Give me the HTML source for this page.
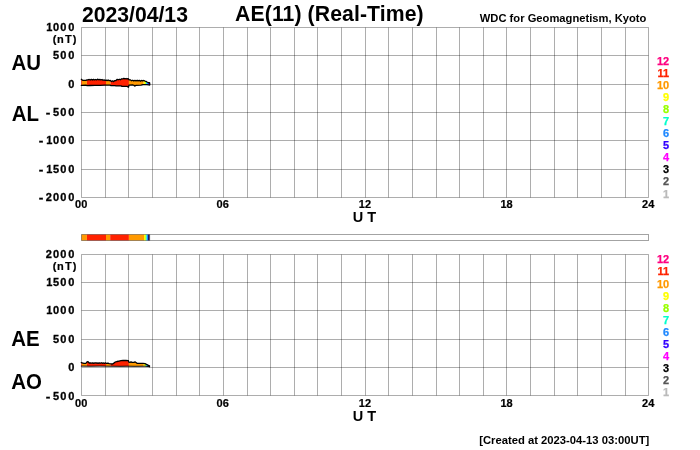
<!DOCTYPE html>
<html><head><meta charset="utf-8"><title>AE(11) (Real-Time) 2023/04/13</title>
<style>
html,body{margin:0;padding:0;background:#fff;}
body{width:700px;height:450px;overflow:hidden;}
svg{display:block;}
text{font-family:'Liberation Sans', Arial, Helvetica, sans-serif;font-weight:bold;}
</style></head>
<body>
<svg width="700" height="450" viewBox="0 0 700 450">
<rect width="700" height="450" fill="#fff"/>
<path d="M81.5 27.5V197.5M105.5 27.5V197.5M128.5 27.5V197.5M152.5 27.5V197.5M176.5 27.5V197.5M199.5 27.5V197.5M223.5 27.5V197.5M247.5 27.5V197.5M270.5 27.5V197.5M294.5 27.5V197.5M317.5 27.5V197.5M341.5 27.5V197.5M365.5 27.5V197.5M388.5 27.5V197.5M412.5 27.5V197.5M436.5 27.5V197.5M459.5 27.5V197.5M483.5 27.5V197.5M506.5 27.5V197.5M530.5 27.5V197.5M554.5 27.5V197.5M577.5 27.5V197.5M601.5 27.5V197.5M625.5 27.5V197.5M648.5 27.5V197.5M81.5 27.5H648.5M81.5 55.5H648.5M81.5 84.5H648.5M81.5 112.5H648.5M81.5 140.5H648.5M81.5 169.5H648.5M81.5 197.5H648.5" stroke="#000" stroke-opacity="0.32" stroke-width="1" fill="none"/>
<path d="M81.5 254.5V395.5M105.5 254.5V395.5M128.5 254.5V395.5M152.5 254.5V395.5M176.5 254.5V395.5M199.5 254.5V395.5M223.5 254.5V395.5M247.5 254.5V395.5M270.5 254.5V395.5M294.5 254.5V395.5M317.5 254.5V395.5M341.5 254.5V395.5M365.5 254.5V395.5M388.5 254.5V395.5M412.5 254.5V395.5M436.5 254.5V395.5M459.5 254.5V395.5M483.5 254.5V395.5M506.5 254.5V395.5M530.5 254.5V395.5M554.5 254.5V395.5M577.5 254.5V395.5M601.5 254.5V395.5M625.5 254.5V395.5M648.5 254.5V395.5M81.5 254.5H648.5M81.5 282.5H648.5M81.5 310.5H648.5M81.5 339.5H648.5M81.5 367.5H648.5M81.5 395.5H648.5" stroke="#000" stroke-opacity="0.32" stroke-width="1" fill="none"/>
<clipPath id="c1"><path d="M81.3,79.3 L82,79.8 L83,80.3 L86,80.3 L87,79.8 L88,79.9 L89.25,79.45 L90.25,79.99 L91.32,79.34 L92.55,80.01 L93.44,79.36 L94.51,79.96 L95.39,79.49 L96.59,79.93 L97.89,79.18 L98.78,79.8 L99.9,79.45 L100.95,79.97 L102.01,79.52 L102.99,80.25 L104.09,79.91 L105.07,80.46 L106.15,80.07 L107.04,80.62 L108.17,80.02 L109.13,80.71 L110.39,80.51 L111.41,81.52 L112.61,80.91 L113.67,81.61 L114.85,80.62 L115.98,80.54 L117.24,79.33 L118.38,79.75 L119.36,79.23 L120.43,79.72 L121.55,78.82 L122.72,78.97 L123.8,78.36 L125.02,78.93 L126.07,78.48 L126.97,78.98 L128.15,78.61 L129.3,79.96 L130.25,79.79 L131.56,80.73 L132.68,80.27 L133.66,80.86 L134.96,80.32 L136.04,80.82 L137.16,80.26 L138.05,80.92 L139.29,80.4 L140.49,81.09 L141.6,80.45 L142.67,80.91 L143.93,80.49 L144.9,81.06 L146,81.4 L147,82.0 L148,82.4 L149,82.6 L149.7,83.0 L149.7,84.8 L148.5,84.8 L147,84.7 L143,84.6 L141,85.1 L136,85.3 L135,86.1 L134,85.4 L133,85.0 L129,85.1 L128.5,87.2 L127,86.4 L122,86.4 L121,85.9 L116,85.9 L115,85.7 L111,85.7 L110,85.2 L105,85.2 L100,85.3 L95,85.4 L90,85.5 L87,85.6 L86,85.2 L81.3,85.3Z"/></clipPath>
<g clip-path="url(#c1)"><rect x="81.0" y="75.36" width="1.0" height="14.840000000000003" fill="#ff2200"/><rect x="82.0" y="75.36" width="4.9" height="14.840000000000003" fill="#ff9900"/><rect x="86.9" y="75.36" width="19.1" height="14.840000000000003" fill="#ff2200"/><rect x="106.0" y="75.36" width="4.5" height="14.840000000000003" fill="#ff9900"/><rect x="110.5" y="75.36" width="18.4" height="14.840000000000003" fill="#ff2200"/><rect x="128.9" y="75.36" width="14.8" height="14.840000000000003" fill="#ff9900"/><rect x="143.7" y="75.36" width="1.5" height="14.840000000000003" fill="#ffff00"/><rect x="145.2" y="75.36" width="0.8" height="14.840000000000003" fill="#99ff00"/><rect x="146.0" y="75.36" width="0.8" height="14.840000000000003" fill="#00ffcc"/><rect x="146.8" y="75.36" width="1.2" height="14.840000000000003" fill="#1e88ff"/><rect x="148.0" y="75.36" width="2.5" height="14.840000000000003" fill="#3300ff"/></g>
<path d="M81.3,79.3 L82,79.8 L83,80.3 L86,80.3 L87,79.8 L88,79.9 L89.25,79.45 L90.25,79.99 L91.32,79.34 L92.55,80.01 L93.44,79.36 L94.51,79.96 L95.39,79.49 L96.59,79.93 L97.89,79.18 L98.78,79.8 L99.9,79.45 L100.95,79.97 L102.01,79.52 L102.99,80.25 L104.09,79.91 L105.07,80.46 L106.15,80.07 L107.04,80.62 L108.17,80.02 L109.13,80.71 L110.39,80.51 L111.41,81.52 L112.61,80.91 L113.67,81.61 L114.85,80.62 L115.98,80.54 L117.24,79.33 L118.38,79.75 L119.36,79.23 L120.43,79.72 L121.55,78.82 L122.72,78.97 L123.8,78.36 L125.02,78.93 L126.07,78.48 L126.97,78.98 L128.15,78.61 L129.3,79.96 L130.25,79.79 L131.56,80.73 L132.68,80.27 L133.66,80.86 L134.96,80.32 L136.04,80.82 L137.16,80.26 L138.05,80.92 L139.29,80.4 L140.49,81.09 L141.6,80.45 L142.67,80.91 L143.93,80.49 L144.9,81.06 L146,81.4 L147,82.0 L148,82.4 L149,82.6 L149.7,83.0 M149.7,83.0 L149.7,84.8" fill="none" stroke="#000" stroke-width="1.3" stroke-linejoin="round" stroke-linecap="round"/>
<path d="M81.3,85.3 L86,85.2 L87,85.6 L90,85.5 L95,85.4 L100,85.3 L105,85.2 L110,85.2 L111,85.7 L115,85.7 L116,85.9 L121,85.9 L122,86.4 L127,86.4 L128.5,87.2 L129,85.1 L133,85.0 L134,85.4 L135,86.1 L136,85.3 L141,85.1 L143,84.6 L147,84.7 L148.5,84.8 L149.7,84.8" fill="none" stroke="#000" stroke-width="1.3" stroke-linejoin="round" stroke-linecap="round"/>
<clipPath id="c2"><path d="M81.3,362.5 L82,362.95 L84,363.35 L86,363.25 L87,361.8 L88,361.6 L89,362.99 L90.21,362.85 L91.5,363.19 L92.79,362.81 L93.87,363.42 L95.04,362.76 L95.97,363.17 L96.96,362.81 L98.09,363.29 L99.06,362.85 L100.35,363.23 L101.3,362.75 L102.24,363.3 L103.17,362.96 L104.44,363.35 L105.41,362.92 L106.68,363.48 L107.98,363.12 L109.16,363.59 L111,363.8 L112,364.0 L113,363.8 L115,362.2 L117,361.5 L119,361.1 L121,360.7 L123,360.5 L126,360.5 L128.3,360.6 L128.9,362.2 L130,362.4 L131,361.9 L132,362.4 L134,362.3 L135,361.9 L136,362.5 L137,363.3 L140,363.4 L143,363.3 L145,363.6 L146,364.1 L147,364.7 L148,365.2 L149.5,365.8 L149.5,366.7 L148,366.5 L145,366.2 L135,366.3 L128,366.2 L120,366.3 L110,366.2 L100,366.1 L90,366.2 L81.3,366.1Z"/></clipPath>
<g clip-path="url(#c2)"><rect x="81.0" y="357.5" width="1.0" height="12.199999999999989" fill="#ff2200"/><rect x="82.0" y="357.5" width="4.9" height="12.199999999999989" fill="#ff9900"/><rect x="86.9" y="357.5" width="19.1" height="12.199999999999989" fill="#ff2200"/><rect x="106.0" y="357.5" width="4.5" height="12.199999999999989" fill="#ff9900"/><rect x="110.5" y="357.5" width="18.4" height="12.199999999999989" fill="#ff2200"/><rect x="128.9" y="357.5" width="14.8" height="12.199999999999989" fill="#ff9900"/><rect x="143.7" y="357.5" width="1.5" height="12.199999999999989" fill="#ffff00"/><rect x="145.2" y="357.5" width="0.8" height="12.199999999999989" fill="#99ff00"/><rect x="146.0" y="357.5" width="0.8" height="12.199999999999989" fill="#00ffcc"/><rect x="146.8" y="357.5" width="1.2" height="12.199999999999989" fill="#1e88ff"/><rect x="148.0" y="357.5" width="2.5" height="12.199999999999989" fill="#3300ff"/></g>
<path d="M81.3,362.5 L82,362.95 L84,363.35 L86,363.25 L87,361.8 L88,361.6 L89,362.99 L90.21,362.85 L91.5,363.19 L92.79,362.81 L93.87,363.42 L95.04,362.76 L95.97,363.17 L96.96,362.81 L98.09,363.29 L99.06,362.85 L100.35,363.23 L101.3,362.75 L102.24,363.3 L103.17,362.96 L104.44,363.35 L105.41,362.92 L106.68,363.48 L107.98,363.12 L109.16,363.59 L111,363.8 L112,364.0 L113,363.8 L115,362.2 L117,361.5 L119,361.1 L121,360.7 L123,360.5 L126,360.5 L128.3,360.6 L128.9,362.2 L130,362.4 L131,361.9 L132,362.4 L134,362.3 L135,361.9 L136,362.5 L137,363.3 L140,363.4 L143,363.3 L145,363.6 L146,364.1 L147,364.7 L148,365.2 L149.5,365.8 M149.5,365.8 L149.5,366.7" fill="none" stroke="#000" stroke-width="1.3" stroke-linejoin="round" stroke-linecap="round"/>
<path d="M81.3,366.1 L90,366.2 L100,366.1 L110,366.2 L120,366.3 L128,366.2 L135,366.3 L145,366.2 L148,366.5 L149.5,366.7" fill="none" stroke="#000" stroke-width="0.95" stroke-linejoin="round" stroke-linecap="round"/>
<rect x="81.5" y="234.5" width="5.4" height="6" fill="#ff9900"/><rect x="86.9" y="234.5" width="19.1" height="6" fill="#ff2200"/><rect x="106.0" y="234.5" width="4.2" height="6" fill="#ff9900"/><rect x="110.2" y="234.5" width="18.7" height="6" fill="#ff2200"/><rect x="128.9" y="234.5" width="15.1" height="6" fill="#ff9900"/><rect x="144.0" y="234.5" width="1.4" height="6" fill="#ffff00"/><rect x="145.4" y="234.5" width="0.8" height="6" fill="#99ff00"/><rect x="146.2" y="234.5" width="0.7" height="6" fill="#00ffcc"/><rect x="146.9" y="234.5" width="1.1" height="6" fill="#1e88ff"/><rect x="148.0" y="234.5" width="1.3" height="6" fill="#1e1266"/>
<rect x="81.5" y="234.5" width="567" height="6" fill="none" stroke="#000" stroke-opacity="0.36" stroke-width="1"/>
<path d="M149.6 234.5V240.5" stroke="#000" stroke-opacity="0.6" stroke-width="1"/>
<text x="81.9" y="22" style="font-size:21.2px" fill="#000">2023/04/13</text>
<text x="235.1" y="21" style="font-size:21.2px;letter-spacing:0.1px" fill="#000">AE(11) (Real-Time)</text>
<text x="479.8" y="22" style="font-size:11.2px" fill="#000">WDC for Geomagnetism, Kyoto</text>
<text transform="translate(11.4 69.7) scale(0.93 1)" style="font-size:22px" fill="#000">AU</text>
<text transform="translate(11.7 120.8) scale(0.93 1)" style="font-size:22px" fill="#000">AL</text>
<text transform="translate(11.2 345.6) scale(0.93 1)" style="font-size:22px" fill="#000">AE</text>
<text transform="translate(11.2 388.7) scale(0.93 1)" style="font-size:22px" fill="#000">AO</text>
<text x="46.25 52.96 60.26 68.26" y="31" style="font-size:11px;stroke:#000;stroke-width:0.3px" fill="#000">1000</text>
<text x="52.96 60.26 68.26" y="59" style="font-size:11px;stroke:#000;stroke-width:0.3px" fill="#000">500</text>
<text x="68.26" y="88" style="font-size:11px;stroke:#000;stroke-width:0.3px" fill="#000">0</text>
<text x="52.96 60.26 68.26" y="116" style="font-size:11px;stroke:#000;stroke-width:0.3px" fill="#000">500</text>
<text transform="translate(45.76 116) scale(1.25 1.0)" style="font-size:11px;stroke:#000;stroke-width:0.3px" fill="#000">-</text>
<text x="46.25 52.96 60.26 68.26" y="144" style="font-size:11px;stroke:#000;stroke-width:0.3px" fill="#000">1000</text>
<text transform="translate(38.66 144) scale(1.25 1.0)" style="font-size:11px;stroke:#000;stroke-width:0.3px" fill="#000">-</text>
<text x="46.25 52.96 60.26 68.26" y="173" style="font-size:11px;stroke:#000;stroke-width:0.3px" fill="#000">1500</text>
<text transform="translate(38.66 173) scale(1.25 1.0)" style="font-size:11px;stroke:#000;stroke-width:0.3px" fill="#000">-</text>
<text x="45.75 52.96 60.26 68.26" y="201" style="font-size:11px;stroke:#000;stroke-width:0.3px" fill="#000">2000</text>
<text transform="translate(38.66 201) scale(1.25 1.0)" style="font-size:11px;stroke:#000;stroke-width:0.3px" fill="#000">-</text>
<text x="52.85 56.97 64.88 72.69" y="43" style="font-size:11px;stroke:#000;stroke-width:0.2px" fill="#000">(nT)</text>
<text x="45.75 52.96 60.26 68.26" y="258" style="font-size:11px;stroke:#000;stroke-width:0.3px" fill="#000">2000</text>
<text x="46.25 52.96 60.26 68.26" y="286" style="font-size:11px;stroke:#000;stroke-width:0.3px" fill="#000">1500</text>
<text x="46.25 52.96 60.26 68.26" y="314" style="font-size:11px;stroke:#000;stroke-width:0.3px" fill="#000">1000</text>
<text x="52.96 60.26 68.26" y="343" style="font-size:11px;stroke:#000;stroke-width:0.3px" fill="#000">500</text>
<text x="68.26" y="371" style="font-size:11px;stroke:#000;stroke-width:0.3px" fill="#000">0</text>
<text x="52.96 60.26 68.26" y="400" style="font-size:11px;stroke:#000;stroke-width:0.3px" fill="#000">500</text>
<text transform="translate(45.76 400) scale(1.25 1.0)" style="font-size:11px;stroke:#000;stroke-width:0.3px" fill="#000">-</text>
<text x="52.85 56.97 64.88 72.69" y="270" style="font-size:11px;stroke:#000;stroke-width:0.2px" fill="#000">(nT)</text>
<text x="81.15" y="208" text-anchor="middle" style="font-size:11px;stroke:#000;stroke-width:0.2px" fill="#000">00</text>
<text x="222.7" y="208" text-anchor="middle" style="font-size:11px;stroke:#000;stroke-width:0.2px" fill="#000">06</text>
<text x="364.9" y="208" text-anchor="middle" style="font-size:11px;stroke:#000;stroke-width:0.2px" fill="#000">12</text>
<text x="506.5" y="208" text-anchor="middle" style="font-size:11px;stroke:#000;stroke-width:0.2px" fill="#000">18</text>
<text x="648.2" y="208" text-anchor="middle" style="font-size:11px;stroke:#000;stroke-width:0.2px" fill="#000">24</text>
<text x="352.8" y="222" style="font-size:14.5px" fill="#000">U T</text>
<text x="81.15" y="407" text-anchor="middle" style="font-size:11px;stroke:#000;stroke-width:0.2px" fill="#000">00</text>
<text x="222.7" y="407" text-anchor="middle" style="font-size:11px;stroke:#000;stroke-width:0.2px" fill="#000">06</text>
<text x="364.9" y="407" text-anchor="middle" style="font-size:11px;stroke:#000;stroke-width:0.2px" fill="#000">12</text>
<text x="506.5" y="407" text-anchor="middle" style="font-size:11px;stroke:#000;stroke-width:0.2px" fill="#000">18</text>
<text x="648.2" y="407" text-anchor="middle" style="font-size:11px;stroke:#000;stroke-width:0.2px" fill="#000">24</text>
<text x="352.8" y="421" style="font-size:14.5px" fill="#000">U T</text>
<text x="669.2" y="65" text-anchor="end" style="font-size:11px;stroke:#ff0080;stroke-width:0.25px" fill="#ff0080">12</text>
<text x="669.2" y="77" text-anchor="end" style="font-size:11px;stroke:#ff2200;stroke-width:0.25px" fill="#ff2200">11</text>
<text x="669.2" y="89" text-anchor="end" style="font-size:11px;stroke:#ff9900;stroke-width:0.25px" fill="#ff9900">10</text>
<text x="669.2" y="101" text-anchor="end" style="font-size:11px;stroke:#ffff00;stroke-width:0.25px" fill="#ffff00">9</text>
<text x="669.2" y="113" text-anchor="end" style="font-size:11px;stroke:#99ff00;stroke-width:0.25px" fill="#99ff00">8</text>
<text x="669.2" y="125" text-anchor="end" style="font-size:11px;stroke:#00ffcc;stroke-width:0.25px" fill="#00ffcc">7</text>
<text x="669.2" y="137" text-anchor="end" style="font-size:11px;stroke:#1e88ff;stroke-width:0.25px" fill="#1e88ff">6</text>
<text x="669.2" y="149" text-anchor="end" style="font-size:11px;stroke:#3300ff;stroke-width:0.25px" fill="#3300ff">5</text>
<text x="669.2" y="161" text-anchor="end" style="font-size:11px;stroke:#ff00ff;stroke-width:0.25px" fill="#ff00ff">4</text>
<text x="669.2" y="173" text-anchor="end" style="font-size:11px;stroke:#000000;stroke-width:0.25px" fill="#000000">3</text>
<text x="669.2" y="185" text-anchor="end" style="font-size:11px;stroke:#555555;stroke-width:0.25px" fill="#555555">2</text>
<text x="669.2" y="198" text-anchor="end" style="font-size:11px;stroke:#bbbbbb;stroke-width:0.25px" fill="#bbbbbb">1</text>
<text x="669.2" y="263" text-anchor="end" style="font-size:11px;stroke:#ff0080;stroke-width:0.25px" fill="#ff0080">12</text>
<text x="669.2" y="275" text-anchor="end" style="font-size:11px;stroke:#ff2200;stroke-width:0.25px" fill="#ff2200">11</text>
<text x="669.2" y="288" text-anchor="end" style="font-size:11px;stroke:#ff9900;stroke-width:0.25px" fill="#ff9900">10</text>
<text x="669.2" y="300" text-anchor="end" style="font-size:11px;stroke:#ffff00;stroke-width:0.25px" fill="#ffff00">9</text>
<text x="669.2" y="312" text-anchor="end" style="font-size:11px;stroke:#99ff00;stroke-width:0.25px" fill="#99ff00">8</text>
<text x="669.2" y="324" text-anchor="end" style="font-size:11px;stroke:#00ffcc;stroke-width:0.25px" fill="#00ffcc">7</text>
<text x="669.2" y="336" text-anchor="end" style="font-size:11px;stroke:#1e88ff;stroke-width:0.25px" fill="#1e88ff">6</text>
<text x="669.2" y="348" text-anchor="end" style="font-size:11px;stroke:#3300ff;stroke-width:0.25px" fill="#3300ff">5</text>
<text x="669.2" y="360" text-anchor="end" style="font-size:11px;stroke:#ff00ff;stroke-width:0.25px" fill="#ff00ff">4</text>
<text x="669.2" y="372" text-anchor="end" style="font-size:11px;stroke:#000000;stroke-width:0.25px" fill="#000000">3</text>
<text x="669.2" y="384" text-anchor="end" style="font-size:11px;stroke:#555555;stroke-width:0.25px" fill="#555555">2</text>
<text x="669.2" y="396" text-anchor="end" style="font-size:11px;stroke:#bbbbbb;stroke-width:0.25px" fill="#bbbbbb">1</text>
<text x="479.2" y="444" style="font-size:11.25px" fill="#000">[Created at 2023-04-13 03:00UT]</text>
</svg>
</body></html>
